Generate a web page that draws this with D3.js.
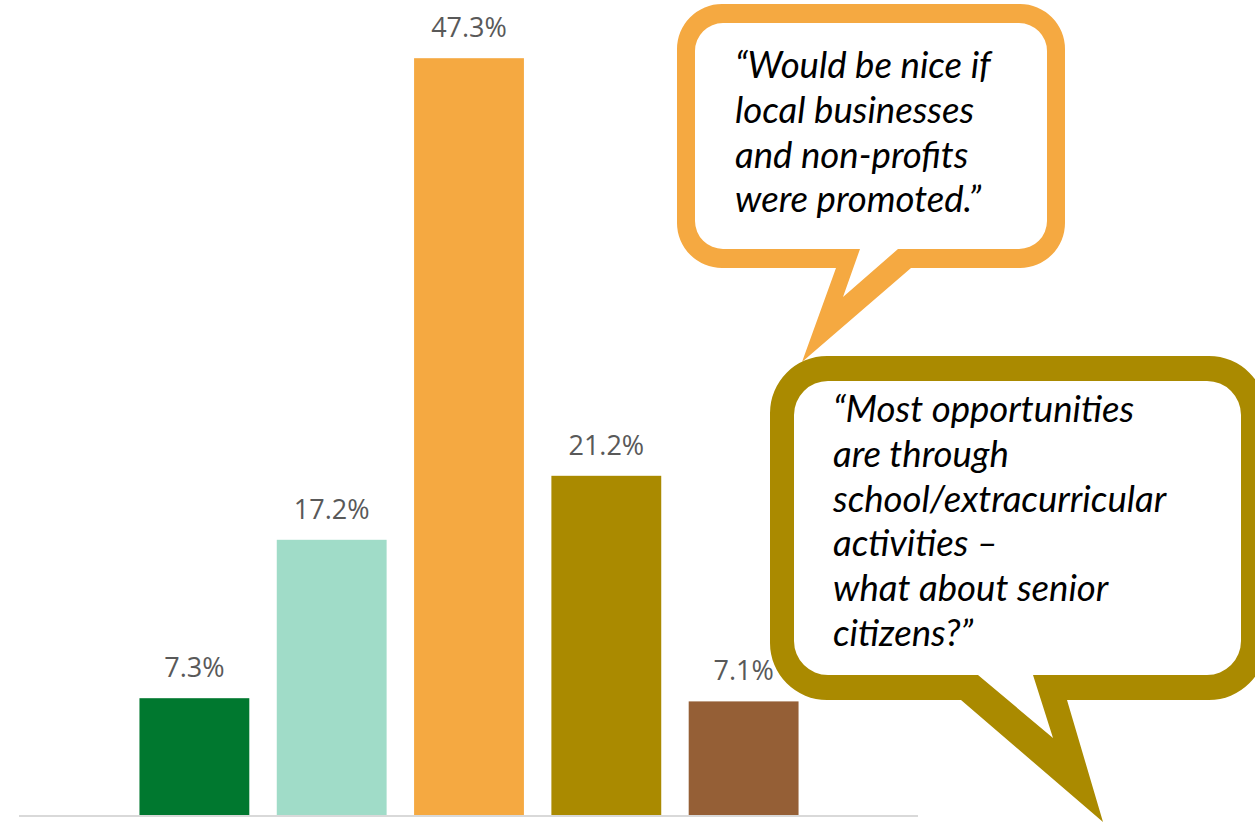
<!DOCTYPE html>
<html>
<head>
<meta charset="utf-8">
<script src="https://cdn.jsdelivr.net/npm/d3@7"></script>
<style>
  html, body { margin: 0; padding: 0; background: #ffffff; }
  svg { display: block; }
</style>
</head>
<body>
<svg id="chart" width="1255" height="822"></svg>
<script>
// ---- data ----
const categories = ["A", "B", "C", "D", "E"];
const values = [7.3, 17.2, 47.3, 21.2, 7.1];
const valueLabels = ["7.3%", "17.2%", "47.3%", "21.2%", "7.1%"];
const barColors = ["#00782f", "#a0dcc8", "#f5a941", "#aa8a00", "#955f36"];
const quote1 = ["\u201CWould be nice if", "local businesses", "and non-profits", "were promoted.\u201D"];
const quote2 = ["\u201CMost opportunities", "are through", "school/extracurricular", "activities \u2013", "what about senior", "citizens?\u201D"];

// ---- layout ----
const W = 1255, H = 822;
const baseY = 815;
const svg = d3.select("#chart");

const x = d3.scaleBand().domain(categories).range([20, 918]).paddingInner(0.2).paddingOuter(0.87);
const y = d3.scaleLinear().domain([0, 50]).range([baseY, baseY - 800]);

// bars
svg.append("g").selectAll("rect").data(values).join("rect")
  .attr("x", (d, i) => x(categories[i]))
  .attr("y", d => y(d))
  .attr("width", x.bandwidth())
  .attr("height", d => y(0) - y(d))
  .attr("fill", (d, i) => barColors[i]);

// axis line
svg.append("line")
  .attr("x1", 19).attr("x2", 918)
  .attr("y1", baseY + 1).attr("y2", baseY + 1)
  .attr("stroke", "#d9d9d9").attr("stroke-width", 2);

// value labels
svg.append("g").selectAll("text").data(values).join("text")
  .attr("x", (d, i) => x(categories[i]) + x.bandwidth() / 2)
  .attr("y", d => y(d) - 21)
  .attr("text-anchor", "middle")
  .attr("font-family", "'Open Sans', sans-serif")
  .attr("font-size", 27)
  .attr("fill", "#595959")
  .text((d, i) => valueLabels[i]);

// ---- speech bubbles ----
function bubblePath(b) {
  const {x0, y0, x1, y1, r, tl, tip, tr} = b;
  return `M${x0 + r},${y0} L${x1 - r},${y0} A${r},${r} 0 0 1 ${x1},${y0 + r} ` +
    `L${x1},${y1 - r} A${r},${r} 0 0 1 ${x1 - r},${y1} ` +
    `L${tr},${y1} L${tip[0]},${tip[1]} L${tl},${y1} ` +
    `L${x0 + r},${y1} A${r},${r} 0 0 1 ${x0},${y1 - r} ` +
    `L${x0},${y0 + r} A${r},${r} 0 0 1 ${x0 + r},${y0} Z`;
}

const bubbles = [
  {
    color: "#f5a941",
    outer: {x0: 677, y0: 4, x1: 1065, y1: 268, r: 45, tl: 836, tip: [802, 362], tr: 911},
    inner: {x0: 695, y0: 23, x1: 1047, y1: 249, r: 28, tl: 860, tip: [843, 297], tr: 898},
    lines: quote1, tx: 735, ty: 78, fs: 36.6
  },
  {
    color: "#aa8a00",
    outer: {x0: 770, y0: 356, x1: 1266, y1: 700, r: 57, tl: 961, tip: [1103, 822], tr: 1067},
    inner: {x0: 794, y0: 381, x1: 1241, y1: 675, r: 34, tl: 978, tip: [1053, 738], tr: 1033},
    lines: quote2, tx: 833, ty: 422, fs: 36.6
  }
];

bubbles.forEach(b => {
  const g = svg.append("g");
  g.append("path").attr("d", bubblePath(b.outer)).attr("fill", b.color);
  g.append("path").attr("d", bubblePath(b.inner)).attr("fill", "#ffffff");
  g.append("g").selectAll("text").data(b.lines).join("text")
    .attr("x", b.tx)
    .attr("y", (d, i) => b.ty + i * 44.8)
    .attr("font-family", "Lato, 'Open Sans', sans-serif")
    .attr("font-style", "italic")
    .attr("font-size", b.fs)
    .attr("fill", "#000000")
    .text(d => d);
});
</script>
</body>
</html>
